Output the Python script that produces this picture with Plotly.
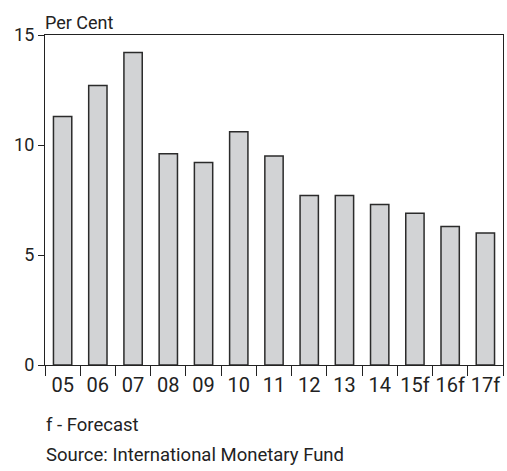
import plotly.graph_objects as go

categories = ["05", "06", "07", "08", "09", "10", "11", "12", "13", "14", "15f", "16f", "17f"]
values = [11.3, 12.7, 14.2, 9.6, 9.2, 10.6, 9.5, 7.7, 7.7, 7.3, 6.9, 6.3, 6.0]
y_ticks = [0, 5, 10, 15]

FONT = "Roboto, Liberation Sans, sans-serif"

fig = go.Figure(go.Bar(
    x=categories, y=values,
    marker=dict(color="#d2d3d5", line=dict(color="#2b2b2b", width=1.5)),
    width=0.52,
))

fig.update_layout(
    width=507, height=471,
    margin=dict(l=45, r=4, t=35, b=106, autoexpand=False),
    paper_bgcolor="white", plot_bgcolor="white",
    showlegend=False,
    font=dict(family=FONT, size=18, color="#222"),
    annotations=[
        dict(text="Per Cent", xref="paper", yref="paper", x=-0.005, y=1.0, yshift=0,
             xanchor="left", yanchor="bottom", showarrow=False,
             font=dict(family=FONT, size=18, color="#222")),
        dict(text="f - Forecast", xref="paper", yref="paper", x=-0.003, y=-0.182,
             xanchor="left", yanchor="middle", showarrow=False,
             font=dict(family=FONT, size=18.5, color="#222")),
        dict(text="Source: International Monetary Fund", xref="paper", yref="paper", x=-0.003, y=-0.273,
             xanchor="left", yanchor="middle", showarrow=False,
             font=dict(family=FONT, size=18.5, color="#222")),
    ],
)

fig.update_xaxes(
    type="category", automargin=False,
    showline=True, linecolor="#222", linewidth=1.2, mirror=True,
    ticks="outside", tickson="boundaries", ticklen=10, tickcolor="#222", tickwidth=1.2,
    tickangle=0, ticklabelstandoff=2,
    showgrid=False, tickfont=dict(family=FONT, size=20, color="#222"),
)
fig.update_yaxes(
    range=[0, 15], tickvals=y_ticks, automargin=False,
    showline=True, linecolor="#222", linewidth=1.2, mirror=True,
    ticks="outside", ticklen=6, tickcolor="#222", tickwidth=1.2,
    showgrid=False, zeroline=False, tickfont=dict(family=FONT, size=18, color="#222"),
)

fig.write_html("out.html", config={"displayModeBar": False},
               post_script="document.body.style.margin='0';document.body.style.overflow='hidden';")
